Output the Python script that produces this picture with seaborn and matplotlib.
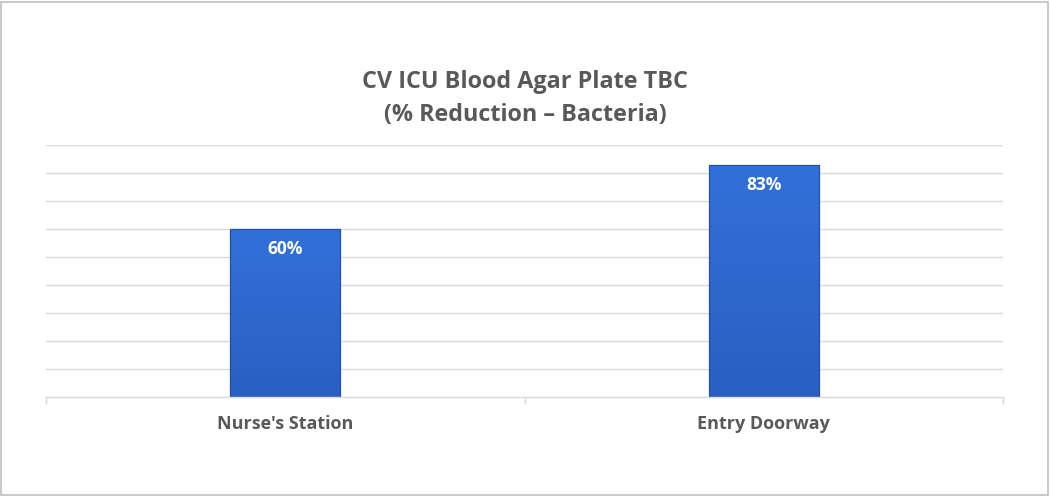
import matplotlib
matplotlib.use("Agg")
import matplotlib.pyplot as plt
import seaborn as sns
import numpy as np
import pandas as pd
from matplotlib.patches import Rectangle

locations = ["Nurse's Station", "Entry Doorway"]
reduction_pct = [60, 83]
title_lines = ["CV ICU Blood Agar Plate TBC", "(% Reduction \u2013 Bacteria)"]

sns.set_theme(style="white")
plt.rcParams["font.family"] = ["Open Sans", "DejaVu Sans"]

df = pd.DataFrame({"location": locations, "reduction": reduction_pct})

fig = plt.figure(figsize=(10.5, 4.96), dpi=100)
ax = fig.add_axes([46 / 1050, 1 - 397 / 496, (1003 - 46) / 1050, (397 - 145) / 496])

sns.barplot(data=df, x="location", y="reduction", ax=ax, color="#2F6AD3",
            width=0.23, saturation=1, edgecolor="#1F4FA8", linewidth=0.8)

# soft vertical shading on each bar
cmap = matplotlib.colors.LinearSegmentedColormap.from_list(
    "barshade", ["#2A5FC2", "#3270D9"])
for bar in ax.patches:
    x0, w, h = bar.get_x(), bar.get_width(), bar.get_height()
    grad = np.linspace(0, 1, 64).reshape(-1, 1)
    im = ax.imshow(grad, extent=(x0, x0 + w, 0, h), origin="lower",
                   aspect="auto", cmap=cmap, zorder=bar.get_zorder() + 0.1)
    im.set_clip_path(bar)
    ax.add_patch(Rectangle((x0, 0), w, h, fill=False, edgecolor="#1F4FA8",
                           linewidth=0.8, zorder=bar.get_zorder() + 0.2))
    ax.text(x0 + w / 2, h - 4.0, f"{int(round(h))}%", ha="center", va="top",
            color="white", fontsize=12.5, fontweight="bold",
            zorder=bar.get_zorder() + 0.3)

ax.set_xlim(-0.5, 1.5)
ax.set_ylim(0, 90)
ax.set_yticks(np.arange(10, 91, 10))
ax.yaxis.grid(True, color="#D9D9D9", linewidth=1)
ax.set_axisbelow(True)
ax.tick_params(axis="y", left=False, labelleft=False)
ax.set_xlabel("")
ax.set_ylabel("")
ax.set_xticks([0, 1])
ax.set_xticklabels(locations, fontsize=13, fontweight="bold", color="#595959")
ax.tick_params(axis="x", bottom=False, pad=7)
ax.set_xticks([-0.5, 0.5, 1.5], minor=True)
ax.tick_params(axis="x", which="minor", bottom=True, length=5, width=1,
               color="#D9D9D9")
for side in ["top", "right", "left"]:
    ax.spines[side].set_visible(False)
ax.spines["bottom"].set_color("#D9D9D9")
ax.spines["bottom"].set_linewidth(1)

fig.text(0.5, 1 - 82 / 496, title_lines[0], ha="center", va="center",
         fontsize=16.8, fontweight="bold", color="#595959")
fig.text(0.5, 1 - 115 / 496, title_lines[1], ha="center", va="center",
         fontsize=16.8, fontweight="bold", color="#595959")

# chart frame
fig.patches.append(Rectangle((0.001, 0.002), 0.997, 0.994, transform=fig.transFigure,
                             fill=False, edgecolor="#BFBFBF", linewidth=1.2))

fig.savefig("out.png", dpi=100, facecolor="white")
